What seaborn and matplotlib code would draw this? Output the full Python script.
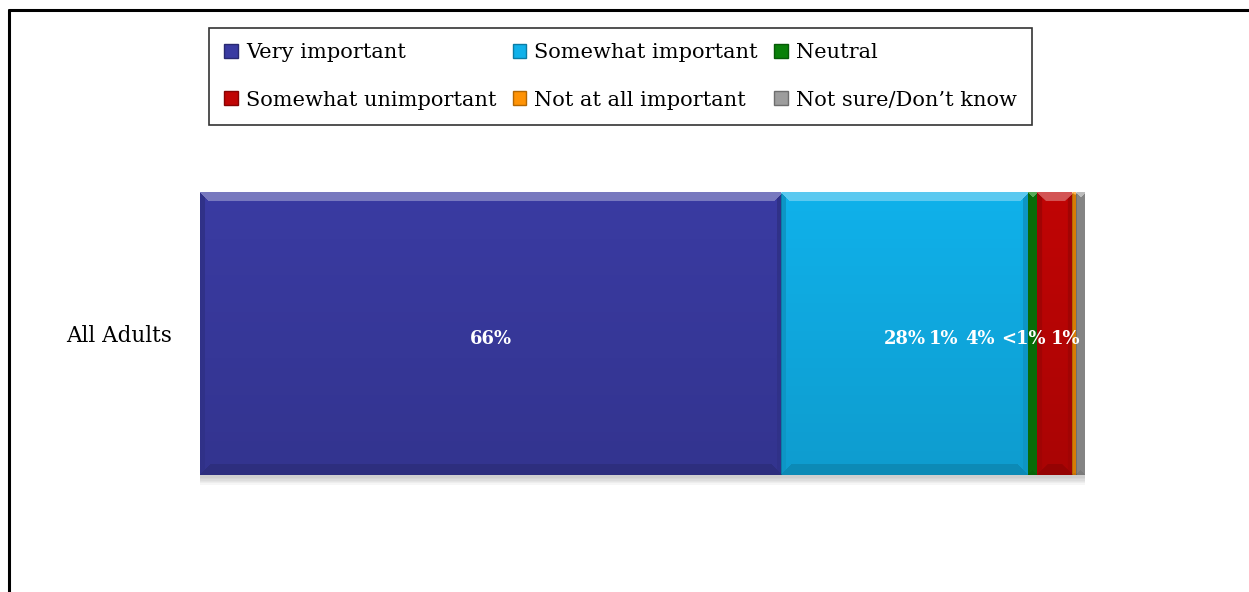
import numpy as np
import pandas as pd
import matplotlib
matplotlib.use("Agg")
import matplotlib.pyplot as plt
import seaborn as sns
from matplotlib.patches import Patch
from matplotlib.lines import Line2D
from matplotlib import patheffects as pe
from matplotlib.colors import to_rgb

# Survey responses for a single group, stacked left to right
group = "All Adults"
responses = ["Very important", "Somewhat important", "Neutral",
             "Somewhat unimportant", "Not at all important", "Not sure/Don\u2019t know"]
shares = [66, 28, 1, 4, 0.5, 1]
share_labels = ["66%", "28%", "1%", "4%", "<1%", "1%"]
colors = ["#3A3BA2", "#10B1EA", "#0A800A", "#C00505", "#FF9305", "#9D9D9D"]

sns.set_theme(style="white")
plt.rcParams["font.family"] = ["DejaVu Serif"]
plt.rcParams["text.color"] = "black"
plt.rcParams["ytick.color"] = "black"

df = pd.DataFrame({"group": group, "response": responses, "share": shares})
df["cum"] = df["share"].cumsum()
total = df["cum"].iloc[-1]

W, H = 1249, 592
fig = plt.figure(figsize=(W / 100, H / 100), dpi=100)
fig.patch.set_facecolor("white")
ax = fig.add_axes([200 / W, (H - 475) / H, 885 / W, 283 / H])

# Stacked bar: draw cumulative totals from the longest to the shortest
for i in reversed(range(len(df))):
    sns.barplot(x=[df["cum"].iloc[i]], y=[group], color=colors[i],
                width=1.0, saturation=1, ax=ax, orient="h")

patches = list(ax.patches)  # longest first
for p in patches:
    p.set_edgecolor("none")
    p.set_clip_on(False)
# soft drop shadow under the whole bar
shadow = [pe.SimplePatchShadow(offset=(0, -k), shadow_rgbFace=(0.5, 0.5, 0.5), alpha=0.07)
          for k in (2, 3, 4, 5, 6, 7)]
patches[0].set_path_effects(shadow + [pe.Normal()])

ax.set_xlim(0, total)
ax.set_ylim(0.5, -0.5)

# Bevel shading on each visible segment
fig.canvas.draw()
seg_bounds = []
prev = 0.0
for p in patches[::-1]:  # shortest first
    right = p.get_x() + p.get_width()
    seg_bounds.append((prev, right))
    prev = right

y0, y1 = -0.5, 0.5
hpx = 283
for (a, b), c in zip(seg_bounds, colors):
    pa = ax.transData.transform((a, 0))[0]
    pb = ax.transData.transform((b, 0))[0]
    wpx = max(int(round(pb - pa)), 2)
    img = np.zeros((hpx, wpx, 4))
    yy, xx = np.mgrid[0:hpx, 0:wpx]
    top = (yy < 9) & (xx >= yy * 0.9) & (xx < wpx - yy * 0.9)
    bot = (yy >= hpx - 11) & (xx >= (hpx - 1 - yy)) & (xx < wpx - (hpx - 1 - yy))
    side = ((xx < 5) | (xx >= wpx - 5)) & ~top & ~bot
    grad = np.linspace(0.0, 0.12, hpx)[:, None] * np.ones((1, wpx))
    img[..., 3] = grad
    img[top, :3] = 1.0
    img[top, 3] = 0.32
    img[bot, :3] = 0.0
    img[bot, 3] = 0.22
    img[side, :3] = 0.0
    img[side, 3] = 0.16
    ax.imshow(img, extent=[a, b, y1, y0], aspect="auto", zorder=3,
              interpolation="bilinear", clip_on=False)

ax.set_xlim(0, total)
ax.set_ylim(0.5, -0.5)

# Value labels
lab_kw = dict(ha="center", va="center", color="white", fontsize=13,
              fontweight="bold", zorder=5)
for i in (0, 1):
    a, b = seg_bounds[i]
    ax.text((a + b) / 2, 0.02, share_labels[i], **lab_kw)
# small segments share a row ending at the bar's right end
offsets_px = [-141, -105, -62, -19]
for lab, off in zip(share_labels[2:], offsets_px):
    ax.annotate(lab, xy=(total, 0.02), xytext=(off, 0), textcoords="offset pixels",
                **lab_kw)

ax.set_xlabel("")
ax.set_ylabel("")
ax.set_xticks([])
ax.tick_params(axis="y", length=0, pad=20, labelsize=15.5, labelcolor="black")
for s in ax.spines.values():
    s.set_visible(False)

# Legend laid out in two rows of three
order = [0, 3, 1, 4, 2, 5]
handles = [Patch(facecolor=colors[i], edgecolor=tuple(np.array(to_rgb(colors[i])) * 0.7),
                 linewidth=1) for i in order]
leg = fig.legend(handles, [responses[i] for i in order], ncol=3,
                 loc="upper left", bbox_to_anchor=(209 / W, 1 - 28 / H),
                 fontsize=15, frameon=True, fancybox=False, edgecolor="black",
                 handlelength=0.65, handleheight=0.65, handletextpad=0.4,
                 columnspacing=0.78, labelspacing=1.38, borderpad=0.72,
                 borderaxespad=0)
leg.get_frame().set_linewidth(1.2)
for t in leg.get_texts():
    t.set_color("black")

# Outer frame along the left and top edges
fig.add_artist(Line2D([9 / W, 9 / W], [0, 1 - 10 / H], transform=fig.transFigure,
                      color="black", linewidth=2.2))
fig.add_artist(Line2D([9 / W, 1], [1 - 10 / H, 1 - 10 / H], transform=fig.transFigure,
                      color="black", linewidth=2.2))

fig.savefig("out.png", dpi=100, facecolor="white")
